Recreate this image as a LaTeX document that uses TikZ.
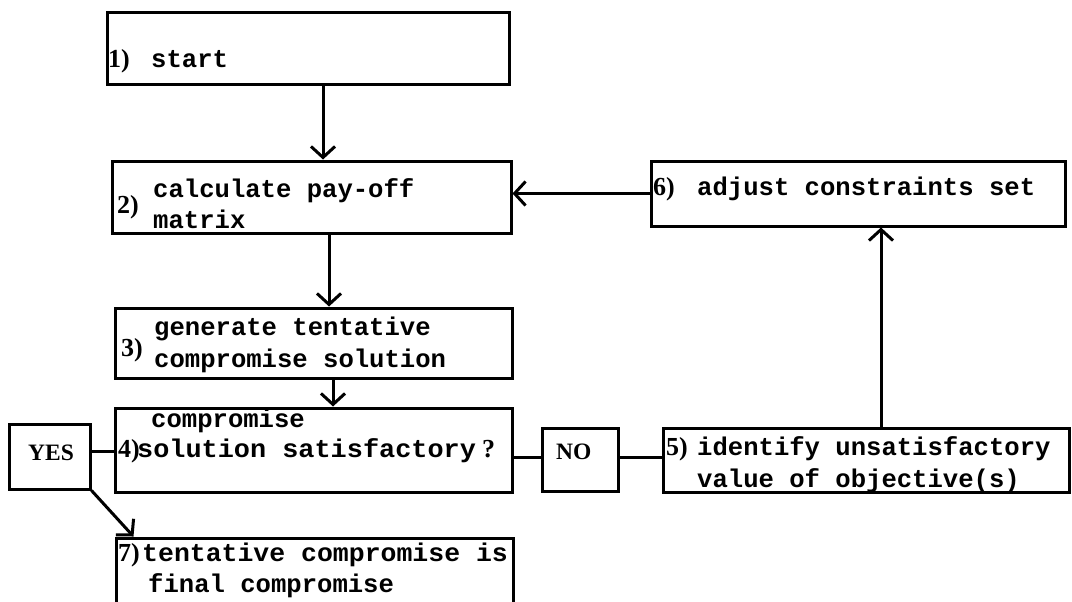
\documentclass[tikz,border=0pt]{standalone}
\usepackage{fontspec}
\setmonofont{Liberation Mono}
\newfontfamily\numfont{Liberation Serif}
\usetikzlibrary{arrows.meta,calc}
\tikzset{
  box/.style={draw, line width=3pt, inner sep=0pt},
  txt/.style={anchor=base west, inner sep=0pt, font=\ttfamily\bfseries\fontsize{25.6}{32}\selectfont},
  num/.style={anchor=base west, inner sep=0pt, font=\numfont\bfseries\fontsize{26}{30}\selectfont},
  lbl/.style={anchor=base west, inner sep=0pt, font=\numfont\bfseries\fontsize{23.5}{28}\selectfont},
  conn/.style={line width=3pt},
  arr/.style={conn, -{Straight Barb[length=11pt,width=24pt]}}
}
\begin{document}
\begin{tikzpicture}[x=1pt, y=-1pt]
\useasboundingbox (0,0) rectangle (1072,602);
\clip (0,0) rectangle (1072,602);
% boxes
\node[box, minimum width=402pt, minimum height=72pt] (b1) at (308,49) {};
\node[box, minimum width=399pt, minimum height=72pt] (b2) at (311.5,197) {};
\node[box, minimum width=397pt, minimum height=70pt] (b3) at (313.5,343) {};
\node[box, minimum width=397pt, minimum height=84pt] (b4) at (313.5,450) {};
\node[box, minimum width=397pt, minimum height=110pt] (b7) at (314.5,593) {};
\node[box, minimum width=81pt, minimum height=65pt] (yes) at (49.5,456.5) {};
\node[box, minimum width=76pt, minimum height=63pt] (no) at (580,459.5) {};
\node[box, minimum width=406pt, minimum height=64pt] (b5) at (866,460) {};
\node[box, minimum width=414pt, minimum height=65pt] (b6) at (858,193.5) {};
% texts
\node[num] (n1) at (108,68) {1)};
\node[txt] (t1) at (151,68) {start};
\node[num] (n2) at (117,213) {2)};
\node[txt] (t2a) at (153,197) {calculate pay-off};
\node[txt] (t2b) at (153,228) {matrix};
\node[num] (n3) at (121,356) {3)};
\node[txt] (t3a) at (154,335) {generate tentative};
\node[txt] (t3b) at (154,367) {compromise solution};
\node[txt] (t4a) at (151,427) {compromise};
\node[num] (n4) at (118,457) {4)};
\node[txt, xscale=1.05, transform shape] (t4b) at (137,457) {solution satisfactory};
\node[lbl, font=\numfont\bfseries\fontsize{26}{30}\selectfont] (q4) at (482,457) {?};
\node[num] (n5) at (666,455) {5)};
\node[txt] (t5a) at (697,455) {identify unsatisfactory};
\node[txt] (t5b) at (697,487) {value of objective(s)};
\node[num] (n6) at (653,195) {6)};
\node[txt] (t6) at (697,195) {adjust constraints set};
\node[num] (n7) at (118,561) {7)};
\node[txt, xscale=1.035, transform shape] (t7a) at (142,561) {tentative compromise is};
\node[txt] (t7b) at (148,592) {final compromise};
\node[lbl] (ly) at (28,460) {YES};
\node[lbl] (ln) at (556,459) {NO};
% connectors
\draw[arr] ([xshift=15pt]b1.south) -- ([xshift=15pt]b1.south |- b2.north);
\draw[arr] ([xshift=17.5pt]b2.south) -- ([xshift=17.5pt]b2.south |- b3.north);
\draw[arr] ([xshift=19.5pt]b3.south) -- ([xshift=19.5pt]b3.south |- b4.north);
\draw[conn] ([yshift=5pt]yes.east) -- ([yshift=5pt]yes.east -| b4.west);
\draw[conn] ([yshift=2.5pt]no.west -| b4.east) -- ([yshift=2.5pt]no.west);
\draw[conn] ([yshift=2.5pt]no.east) -- ([yshift=2.5pt]no.east -| b5.west);
\draw[arr] ([xshift=15pt]b5.north) -- ([xshift=15pt]b5.north |- b6.south);
\draw[arr] (b6.west) -- (b6.west -| b2.east);
\draw[arr] (yes.south east) -- ([xshift=19pt]b7.north west);
\end{tikzpicture}
\end{document}
